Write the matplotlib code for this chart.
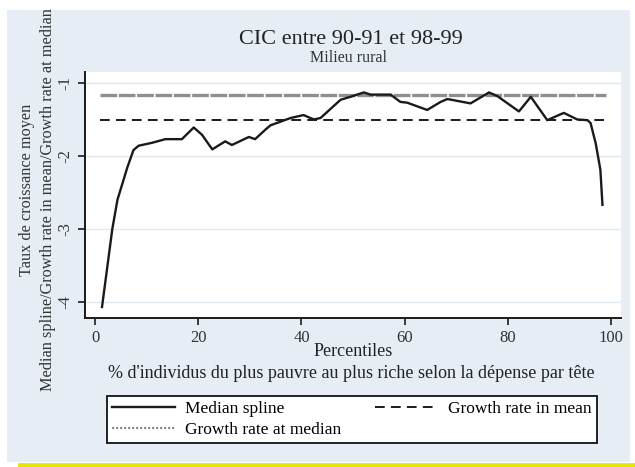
import matplotlib
matplotlib.use("Agg")
import matplotlib.pyplot as plt
from matplotlib.patches import Rectangle
from matplotlib.lines import Line2D

# ---- data ----
percentiles = [1.3, 3.3, 4.3, 6.2, 7.4, 8.4, 11, 13.6, 16.8, 19.1, 20.7, 22.7, 25.2, 26.5,
               29.8, 31, 33, 34, 37.9, 40.4, 42.4, 43.7, 47.6, 49.5, 52.1, 53.4, 57.3,
               59.2, 60.5, 64.4, 67, 68.3, 72.8, 76.4, 78, 82.2, 84.5, 87.7, 90.9, 93.5,
               95.5, 96.1, 97.1, 98, 98.4]
median_spline = [-4.07, -3.0, -2.6, -2.16, -1.92, -1.86, -1.82, -1.77, -1.77, -1.61, -1.71,
                 -1.91, -1.80, -1.85, -1.74, -1.77, -1.64, -1.58, -1.48, -1.44, -1.50, -1.48,
                 -1.23, -1.19, -1.13, -1.16, -1.16, -1.26, -1.27, -1.37, -1.26, -1.22, -1.28,
                 -1.13, -1.18, -1.39, -1.19, -1.51, -1.41, -1.50, -1.51, -1.55, -1.83, -2.19,
                 -2.67]
line_x = [1, 99]
growth_mean = -1.51
growth_median = -1.16
xticks = [0, 20, 40, 60, 80, 100]
yticks = [-4, -3, -2, -1]

serif = ["Liberation Serif", "DejaVu Serif"]
plt.rcParams["font.family"] = serif

W, H = 635, 467
fig = plt.figure(figsize=(W / 100, H / 100), dpi=100, facecolor="white")

# background panel
fig.patches.append(Rectangle((7 / W, 1 - 462 / H), 623 / W, 452 / H,
                             transform=fig.transFigure, facecolor="#e6edf4",
                             edgecolor="none", zorder=-10))
fig.lines.append(Line2D([20 / W, 1.0], [1 - 465 / H, 1 - 465 / H],
                        transform=fig.transFigure, color="#e6e600", lw=3.5))

ax = fig.add_axes([85 / W, 1 - 318 / H, 536 / W, 246 / H])
ax.set_facecolor("white")

ax.plot(percentiles, median_spline, color="#1a1a1a", lw=1.7, zorder=3)
ax.plot(line_x, [growth_median, growth_median], color="#8f8f8f", lw=2.4,
        linestyle=(0, (5, 0.5)), zorder=2)
ax.plot(line_x, [growth_mean, growth_mean], color="#1a1a1a", lw=1.4,
        linestyle=(0, (5, 3.2)), zorder=2)

ax.set_xlim(-2, 102)
ax.set_ylim(-4.22, -0.85)
ax.set_xticks(xticks)
ax.set_yticks(yticks)
ax.set_yticklabels([f"-{abs(v)}" for v in yticks], rotation=90, va="center")
ax.set_xticklabels([str(v) for v in xticks])
ax.tick_params(axis="both", direction="out", length=5, width=1.2, colors="#1a1a1a",
               labelsize=12, labelcolor="#333333")
ax.grid(axis="y", color="#dfe7ef", lw=1.0)
ax.set_axisbelow(True)

for side in ["top", "right"]:
    ax.spines[side].set_visible(False)
for side in ["left", "bottom"]:
    ax.spines[side].set_linewidth(1.4)
    ax.spines[side].set_color("#1a1a1a")

fig.text(353 / W, 1 - 352 / H, "Percentiles", ha="center", va="center",
         fontsize=13, color="#222222")
fig.text(351 / W, 1 - 374 / H,
         "% d'individus du plus pauvre au plus riche selon la dépense par tête",
         ha="center", va="center", fontsize=13, color="#222222")
fig.text(27 / W, 1 - 190 / H, "Taux de croissance moyen", ha="center", va="center",
         rotation=90, fontsize=11.7, color="#333333")
fig.text(48 / W, 1 - 200 / H, "Median spline/Growth rate in mean/Growth rate at median",
         ha="center", va="center", rotation=90, fontsize=11.7, color="#333333")

fig.text(351 / W, 1 - 39 / H, "CIC entre 90-91 et 98-99", ha="center", va="center",
         fontsize=16, color="#222222")
fig.text(349 / W, 1 - 58 / H, "Milieu rural", ha="center", va="center",
         fontsize=11.5, color="#333333")

h_spline = Line2D([], [], color="#1a1a1a", lw=1.7)
h_median = Line2D([], [], color="#8f8f8f", lw=1.6, linestyle=(0, (1, 0.8)))
h_mean = Line2D([], [], color="#1a1a1a", lw=1.4, linestyle=(0, (5, 3.2)))
leg = fig.legend([h_spline, h_median, h_mean],
                 ["Median spline", "Growth rate at median", "Growth rate in mean"],
                 loc="lower left", bbox_to_anchor=(107 / W, 1 - 443 / H, 490 / W, 52 / H),
                 mode="expand", ncol=2, frameon=True, fancybox=False, edgecolor="#111111",
                 facecolor="white", framealpha=1, fontsize=12.5, handlelength=3.6,
                 handletextpad=0.6, borderaxespad=0, labelspacing=0.25, columnspacing=2,
                 borderpad=0.3)
leg.get_frame().set_linewidth(1.3)

fig.savefig("out.png", dpi=100, facecolor="white")
